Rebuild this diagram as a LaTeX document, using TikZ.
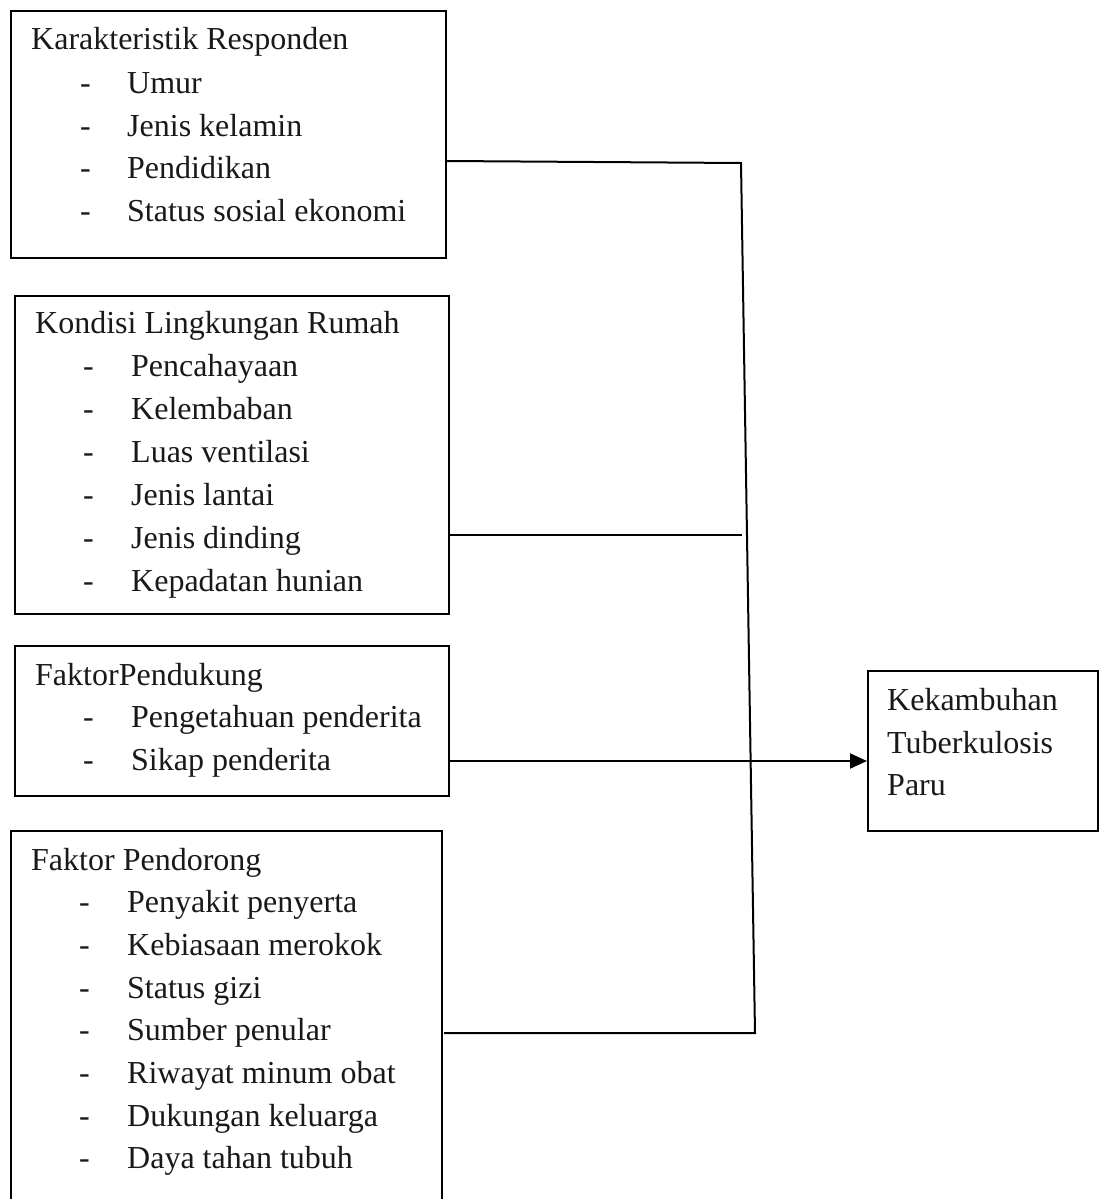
\documentclass[tikz,border=0pt]{standalone}
\usepackage{fontspec}
\setmainfont{Liberation Serif}
\usetikzlibrary{arrows.meta}
\begin{document}
\begin{tikzpicture}[x=1pt,y=-1pt,
  box/.style={draw=black, line width=2pt, anchor=north west, inner sep=0pt},
  txt/.style={anchor=base west, inner sep=0pt, text=black!90, font=\fontsize{32}{42}\selectfont},
  conn/.style={draw=black, line width=2pt},
  ]
\clip (0,0) rectangle (1104,1199);
\fill[white] (0,0) rectangle (1104,1199);
% boxes
\node[box, minimum width=435pt, minimum height=247pt] (b1) at (10,10) {};
\node[box, minimum width=434pt, minimum height=318pt] (b2) at (14,295) {};
\node[box, minimum width=434pt, minimum height=150pt] (b3) at (14,645) {};
\node[box, minimum width=431pt, minimum height=420pt] (b4) at (10,830) {};
\node[box, minimum width=230pt, minimum height=160pt] (b5) at (867,670) {};
% box 1
\node[txt] (t1) at (31,50) {Karakteristik Responden};
\foreach \y/\s [count=\i] in {93/Umur,136/Jenis kelamin,178/Pendidikan,221/Status sosial ekonomi}{
  \node[txt] (d1\i) at (80,\y) {-};
  \node[txt] (i1\i) at (127,\y) {\s};
}
% box 2
\node[txt] (t2) at (35,333) {Kondisi Lingkungan Rumah};
\foreach \y/\s [count=\i] in {376/Pencahayaan,419/Kelembaban,462/Luas ventilasi,505/Jenis lantai,548/Jenis dinding,591/Kepadatan hunian}{
  \node[txt] (d2\i) at (83,\y) {-};
  \node[txt] (i2\i) at (131,\y) {\s};
}
% box 3
\node[txt] (t3) at (35,685) {FaktorPendukung};
\foreach \y/\s [count=\i] in {727/Pengetahuan penderita,770/Sikap penderita}{
  \node[txt] (d3\i) at (83,\y) {-};
  \node[txt] (i3\i) at (131,\y) {\s};
}
% box 4
\node[txt] (t4) at (31,870) {Faktor Pendorong};
\foreach \y/\s [count=\i] in {912/Penyakit penyerta,955/Kebiasaan merokok,998/Status gizi,1040/Sumber penular,1083/Riwayat minum obat,1126/Dukungan keluarga,1168/Daya tahan tubuh}{
  \node[txt] (d4\i) at (79,\y) {-};
  \node[txt] (i4\i) at (127,\y) {\s};
}
% box 5
\node[txt] (t5a) at (887,710) {Kekambuhan};
\node[txt] (t5b) at (887,753) {Tuberkulosis};
\node[txt] (t5c) at (887,795) {Paru};
% connector points
\coordinate (s1) at (447,161);
\coordinate (j1) at (741,163);
\coordinate (j4) at (755,1033);
\coordinate (s4) at (444,1033);
\coordinate (s2) at (449,535);
\coordinate (e2) at (742,535);
\coordinate (s3) at (449,761);
% connectors
\draw[conn] (s1) -- (j1) -- (j4) -- (s4);
\draw[conn] (s2) -- (e2);
\draw[conn, -{Triangle[length=17pt,width=15pt]}] (s3) -- (b5.west |- s3);
\end{tikzpicture}
\end{document}
